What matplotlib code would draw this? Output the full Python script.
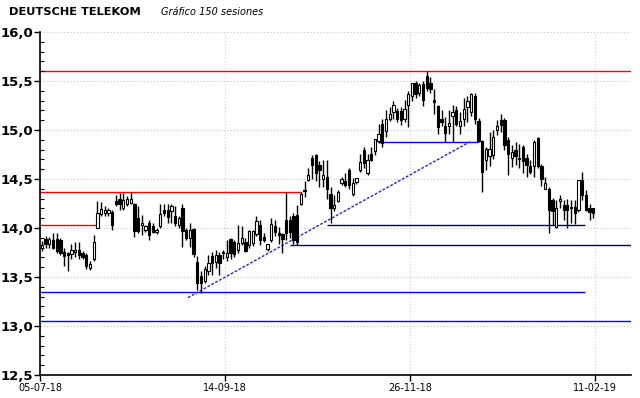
import numpy as np
import matplotlib
matplotlib.use('Agg')
import matplotlib.pyplot as plt
from matplotlib.ticker import MultipleLocator, FuncFormatter

# Daily OHLC, 150 sessions
opens = [13.80, 13.89, 13.84, 13.88, 13.89, 13.88, 13.75, 13.74, 13.73, 13.76,
         13.78, 13.75, 13.72, 13.59, 13.68, 14.00, 14.14, 14.15, 14.15, 14.16,
         14.28, 14.30, 14.20, 14.25, 14.26, 14.24, 14.10, 14.03, 13.98, 14.05,
         14.02, 13.96, 14.02, 14.18, 14.18, 14.17, 14.12, 14.03, 14.20, 13.98,
         13.90, 13.99, 13.65, 13.51, 13.46, 13.56, 13.71, 13.65, 13.72, 13.74,
         13.70, 13.89, 13.86, 13.78, 13.85, 13.86, 13.83, 13.85, 13.94, 14.03,
         13.91, 13.79, 13.88, 14.02, 13.95, 13.94, 14.08, 14.08, 14.12, 14.13,
         14.25, 14.39, 14.49, 14.71, 14.74, 14.64, 14.50, 14.52, 14.35, 14.20,
         14.28, 14.46, 14.48, 14.59, 14.35, 14.47, 14.59, 14.80, 14.56, 14.76,
         14.79, 14.89, 15.06, 14.99, 15.11, 15.18, 15.19, 15.19, 15.11, 15.26,
         15.35, 15.48, 15.38, 15.47, 15.55, 15.48, 15.30, 15.25, 15.11, 15.04,
         15.04, 15.14, 15.20, 15.04, 15.11, 15.23, 15.18, 15.35, 15.09, 14.89,
         14.69, 14.73, 14.74, 15.00, 15.10, 15.10, 14.90, 14.71, 14.80, 14.71,
         14.83, 14.71, 14.63, 14.63, 14.92, 14.63, 14.40, 14.40, 14.29, 14.01,
         14.28, 14.23, 14.23, 14.20, 14.21, 14.18, 14.49, 14.34, 14.20, 14.20]
highs = [13.87, 13.92, 13.91, 13.95, 13.95, 13.90, 13.80, 13.76, 13.84, 13.86,
         13.86, 13.77, 13.75, 13.66, 13.93, 14.28, 14.27, 14.22, 14.20, 14.18,
         14.34, 14.36, 14.36, 14.33, 14.37, 14.26, 14.22, 14.13, 14.03, 14.08,
         14.05, 14.00, 14.24, 14.24, 14.24, 14.24, 14.22, 14.12, 14.24, 14.00,
         14.05, 14.00, 13.71, 13.56, 13.61, 13.72, 13.76, 13.78, 13.76, 13.78,
         13.88, 13.90, 13.88, 14.03, 14.02, 13.90, 13.98, 13.98, 14.12, 14.08,
         13.95, 13.84, 14.10, 14.08, 14.01, 13.95, 14.37, 14.12, 14.15, 14.23,
         14.37, 14.48, 14.61, 14.74, 14.76, 14.68, 14.69, 14.69, 14.42, 14.34,
         14.39, 14.52, 14.56, 14.61, 14.51, 14.51, 14.76, 14.83, 14.76, 14.83,
         14.91, 15.06, 15.11, 15.20, 15.23, 15.30, 15.22, 15.23, 15.31, 15.40,
         15.48, 15.50, 15.48, 15.50, 15.60, 15.54, 15.42, 15.26, 15.20, 15.13,
         15.20, 15.26, 15.25, 15.18, 15.33, 15.35, 15.38, 15.38, 15.12, 14.90,
         14.83, 14.98, 15.00, 15.10, 15.16, 15.12, 14.93, 14.85, 14.88, 14.86,
         14.85, 14.76, 14.69, 14.90, 14.93, 14.65, 14.52, 14.42, 14.31, 14.29,
         14.34, 14.29, 14.30, 14.29, 14.29, 14.49, 14.57, 14.39, 14.25, 14.20]
lows = [13.77, 13.80, 13.80, 13.79, 13.75, 13.72, 13.61, 13.56, 13.68, 13.70,
        13.68, 13.68, 13.58, 13.57, 13.66, 14.00, 14.12, 14.12, 14.12, 13.98,
        14.22, 14.18, 14.18, 14.22, 14.24, 13.91, 13.95, 13.93, 13.96, 13.88,
        13.95, 13.94, 14.00, 14.12, 14.05, 14.05, 14.02, 14.00, 13.81, 13.88,
        13.81, 13.70, 13.37, 13.34, 13.44, 13.52, 13.52, 13.59, 13.52, 13.68,
        13.66, 13.68, 13.70, 13.74, 13.83, 13.76, 13.80, 13.82, 13.92, 13.83,
        13.86, 13.77, 13.86, 13.92, 13.84, 13.74, 13.88, 13.90, 13.84, 13.83,
        14.23, 14.32, 14.48, 14.50, 14.48, 14.42, 14.42, 14.30, 14.05, 14.17,
        14.27, 14.44, 14.42, 14.40, 14.33, 14.45, 14.57, 14.61, 14.54, 14.68,
        14.75, 14.87, 14.83, 14.93, 15.09, 15.11, 15.08, 15.05, 15.08, 15.03,
        15.30, 15.33, 15.35, 15.25, 15.40, 15.38, 15.16, 14.96, 15.04, 14.88,
        14.96, 14.88, 15.04, 14.96, 15.04, 15.08, 15.14, 15.06, 14.88, 14.37,
        14.59, 14.63, 14.70, 14.95, 14.98, 14.80, 14.54, 14.62, 14.64, 14.61,
        14.56, 14.52, 14.55, 14.52, 14.61, 14.43, 14.40, 13.95, 14.03, 14.00,
        14.20, 14.08, 14.00, 14.05, 14.04, 14.16, 14.29, 14.17, 14.08, 14.10]
closes = [13.83, 13.84, 13.89, 13.80, 13.77, 13.75, 13.71, 13.72, 13.78, 13.78,
          13.72, 13.70, 13.61, 13.63, 13.86, 14.15, 14.19, 14.18, 14.18, 14.03,
          14.24, 14.24, 14.29, 14.30, 14.30, 13.97, 13.97, 14.05, 14.02, 13.93,
          13.96, 13.98, 14.14, 14.15, 14.11, 14.22, 14.05, 14.10, 13.97, 13.90,
          13.98, 13.73, 13.44, 13.44, 13.58, 13.64, 13.64, 13.72, 13.64, 13.76,
          13.75, 13.74, 13.73, 13.85, 13.90, 13.77, 13.97, 13.97, 14.07, 13.88,
          13.88, 13.84, 14.04, 13.96, 13.93, 13.89, 13.95, 13.96, 13.88, 13.86,
          14.35, 14.38, 14.54, 14.64, 14.56, 14.59, 14.54, 14.40, 14.20, 14.23,
          14.37, 14.50, 14.44, 14.44, 14.46, 14.51, 14.67, 14.66, 14.69, 14.69,
          14.91, 14.96, 14.87, 15.11, 15.16, 15.26, 15.11, 15.10, 15.21, 15.37,
          15.48, 15.37, 15.46, 15.31, 15.43, 15.42, 15.29, 15.03, 15.08, 14.97,
          15.07, 15.18, 15.06, 15.09, 15.21, 15.30, 15.37, 15.11, 14.89, 14.57,
          14.81, 14.81, 14.93, 15.04, 15.05, 14.85, 14.76, 14.78, 14.73, 14.70,
          14.68, 14.64, 14.57, 14.88, 14.63, 14.50, 14.46, 14.18, 14.17, 14.20,
          14.29, 14.18, 14.18, 14.21, 14.15, 14.49, 14.34, 14.18, 14.16, 14.15]

tick_sessions = [0, 50, 100, 150]
tick_labels = ['05-07-18', '14-09-18', '26-11-18', '11-02-19']

# Horizontal support / resistance levels: price, start session, end session (None = edge)
red_levels = [15.60, 14.37, 14.03]
red_start = [None, None, None]
red_end = [None, 70, 15]
blue_levels = [13.35, 13.05, 14.88]
blue_start = [None, None, 90.8]
blue_end = [146.8, None, 117.8]
navy_levels = [14.03, 13.83]
navy_start = [77, 67]
navy_end = [146.8, None]

# Dashed trend line
trend_sessions = [39.5, 115.7]
trend_prices = [13.29, 14.88]

XMIN, XMAX = -0.5, 159.2

fig = plt.figure(figsize=(6.4, 3.98), dpi=100)
ax = fig.add_axes([40 / 640, 23 / 398, 591 / 640, 343 / 398])

ax.set_xlim(XMIN, XMAX)
ax.set_ylim(12.5, 16.0)

# grid
for y in np.arange(13.0, 16.01, 0.5):
    ax.axhline(y, color='#c8c8c8', lw=0.8, ls=(0, (1, 2)), zorder=0)
for t in tick_sessions:
    ax.axvline(t - 0.5, color='#d8c8d0', lw=0.8, ls=(0, (1, 2)), zorder=0)


def edge(v, default):
    return default if v is None else v


for p, s, e in zip(red_levels, red_start, red_end):
    ax.hlines(p, edge(s, XMIN), edge(e, XMAX), color='#ff0000', lw=1.0, zorder=1)
for p, s, e in zip(blue_levels, blue_start, blue_end):
    ax.hlines(p, edge(s, XMIN), edge(e, XMAX), color='#0000ff', lw=1.0, zorder=1)
for p, s, e in zip(navy_levels, navy_start, navy_end):
    ax.hlines(p, edge(s, XMIN), edge(e, XMAX), color='#00006e', lw=1.0, zorder=1)
ax.plot(trend_sessions, trend_prices, color='#2020ff', lw=1.0, ls=(0, (2, 1.2)), zorder=1)

# candles
idx = np.arange(len(closes))
o = np.array(opens)
c = np.array(closes)
ax.vlines(idx, lows, highs, color='black', lw=1.0, zorder=2)
up = c >= o
bottom = np.minimum(o, c)
height = np.maximum(np.abs(c - o), 0.012)
ax.bar(idx[up], height[up], bottom=bottom[up], width=0.62, facecolor='white',
       edgecolor='black', linewidth=0.8, zorder=3)
ax.bar(idx[~up], height[~up], bottom=bottom[~up], width=0.62, facecolor='black',
       edgecolor='black', linewidth=0.8, zorder=3)

# axes styling
for side in ['top', 'right']:
    ax.spines[side].set_visible(False)
ax.spines['left'].set_linewidth(1.2)
ax.spines['bottom'].set_linewidth(1.2)

ax.yaxis.set_major_locator(MultipleLocator(0.5))
ax.yaxis.set_minor_locator(MultipleLocator(0.1))
ax.yaxis.set_major_formatter(FuncFormatter(lambda v, pos: f'{v:.1f}'.replace('.', ',')))
ax.tick_params(axis='y', which='major', direction='out', length=4, width=1,
               labelsize=9.5, pad=1)
ax.tick_params(axis='y', which='minor', direction='in', length=3, width=0.8)
for lab in ax.get_yticklabels():
    lab.set_fontweight('bold')

ax.set_xticks([t - 0.5 for t in tick_sessions])
ax.set_xticklabels(tick_labels)
ax.tick_params(axis='x', direction='out', length=4, width=1, labelsize=7, pad=2)

fig.text(9 / 640, 1 - 12 / 398, 'DEUTSCHE TELEKOM', fontsize=8.2, fontweight='bold',
         va='center', ha='left')
fig.text(161 / 640, 1 - 12 / 398, 'Gráfico 150 sesiones', fontsize=7, style='italic',
         va='center', ha='left')

fig.savefig('out.png', dpi=100)
